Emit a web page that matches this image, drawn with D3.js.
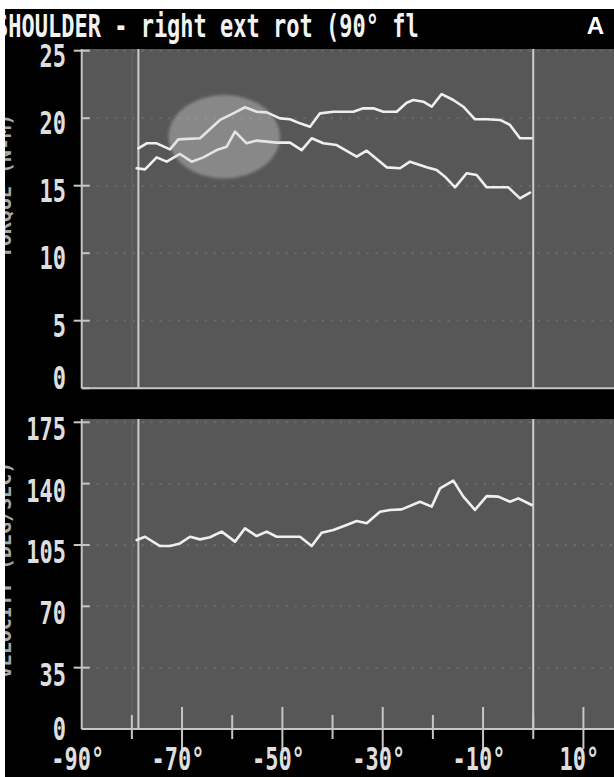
<!DOCTYPE html>
<html>
<head>
<meta charset="utf-8">
<script src="https://cdn.jsdelivr.net/npm/d3@7"></script>
<style>
  html, body { margin: 0; padding: 0; background: #000; }
  svg { display: block; }
</style>
</head>
<body>
<script>
// ---- chart text ----
const title = "SHOULDER - right ext rot (90\u00B0 fl";
const panelTag = "A";
const axisTitles = ["TORQUE (N-M)", "VELOCITY (DEG/SEC)"];

// ---- axes ----
const xTickValues = [-90, -70, -50, -30, -10, 10];
const xMinorTicks = [-80, -60, -40, -20, 0];
const torqueTicks = [0, 5, 10, 15, 20, 25];
const lowerTicks = [0, 35, 70, 105, 140, 175];

// range-of-motion limits (deg) and highlighted zone (deg / torque)
const romLimits = [-78.7, 0];
const highlightX = [-72.7, -50.5];
const highlightY = [15.54, 21.72];

// ---- upper torque trace ----
const upperPos = [-78.7, -77.05, -75.06, -72.4, -70.74, -66.42, -62.43, -59.78, -57.45, -55.12,
  -53.13, -50.47, -48.48, -46.49, -44.5, -42.5, -39.84, -35.86, -33.87, -31.87,
  -29.88, -27.22, -25.23, -23.9, -21.91, -20.24, -18.25, -15.93, -13.93, -11.61,
  -9.28, -6.62, -4.63, -2.64, -0.31];
const upperVal = [17.77, 18.14, 18.14, 17.69, 18.43, 18.51, 19.87, 20.36, 20.81, 20.48,
  20.43, 19.99, 19.92, 19.62, 19.37, 20.36, 20.48, 20.48, 20.73, 20.73,
  20.48, 20.48, 21.15, 21.35, 21.22, 20.85, 21.79, 21.35, 20.85, 19.92,
  19.92, 19.87, 19.5, 18.51, 18.51];

// ---- lower torque trace ----
const lowerPos = [-79.04, -77.38, -75.06, -73.06, -70.41, -68.08, -65.76, -63.1, -61.1, -59.44,
  -57.12, -55.12, -51.14, -48.48, -46.16, -44.16, -41.84, -39.18, -35.19, -33.2,
  -29.21, -26.56, -24.56, -21.24, -19.25, -17.59, -15.59, -13.27, -11.27, -9.28,
  -4.96, -2.64, -0.64];
const lowerVal = [16.29, 16.21, 17.1, 16.78, 17.35, 16.78, 17.1, 17.64, 17.89, 19.0,
  18.14, 18.34, 18.19, 18.19, 17.64, 18.51, 18.14, 18.01, 17.15, 17.59,
  16.36, 16.29, 16.78, 16.36, 16.16, 15.67, 14.88, 15.92, 15.79, 14.88,
  14.88, 14.06, 14.48];

// ---- velocity trace (second panel) ----
const velPos = [-79.04, -77.38, -74.39, -72.4, -70.41, -68.41, -66.42, -64.43, -62.1, -59.44,
  -57.45, -55.12, -53.13, -51.14, -46.49, -44.16, -42.17, -39.84, -37.19, -35.19,
  -33.2, -30.54, -28.55, -26.22, -22.57, -20.24, -18.58, -15.93, -13.93, -11.61,
  -9.28, -6.96, -4.63, -2.97, -0.31];
const velVal = [107.8, 109.7, 104.4, 104.4, 105.9, 109.7, 108.2, 109.4, 112.6, 106.9,
  114.5, 110.1, 112.6, 109.7, 109.7, 104.4, 112.0, 113.5, 116.4, 118.7,
  117.4, 124.0, 125.0, 125.3, 129.7, 126.9, 137.3, 141.7, 132.6, 125.0,
  132.9, 132.6, 129.7, 131.6, 127.8];

// ---- drawing ----
const W = 614, H = 777;
const svg = d3.select("body").append("svg").attr("width", W).attr("height", H);

const defs = svg.append("defs");
defs.append("filter").attr("id", "soft").attr("x", "-5%").attr("y", "-5%").attr("width", "110%").attr("height", "110%")
  .append("feGaussianBlur").attr("stdDeviation", 0.55);
defs.append("filter").attr("id", "haze").attr("x", "-20%").attr("y", "-20%").attr("width", "140%").attr("height", "140%")
  .append("feGaussianBlur").attr("stdDeviation", 1.6);

svg.append("rect").attr("width", W).attr("height", H).attr("fill", "#000");

const x = d3.scaleLinear().domain([-90, 10]).range([81.7, 583.4]);
const yTop = d3.scaleLinear().domain([0, 25]).range([388.2, 50.7]);
const yBot = d3.scaleLinear().domain([0, 175]).range([729, 422.3]);

const GRAY = "#575757", AXIS = "#c6c6c6", TRACE = "#efefef", LABEL = "#dedede";
const MONO = "'DejaVu Sans Mono', 'Liberation Mono', monospace";

function monoText(sel, px, py, str, anchor) {
  return sel.append("text")
    .attr("transform", `translate(${px},${py}) scale(1,1.45)`)
    .attr("text-anchor", anchor)
    .attr("font-family", MONO)
    .attr("font-weight", "bold")
    .attr("font-size", 22)
    .attr("fill", LABEL)
    .text(str);
}

const panels = [
  { y: yTop, ticks: torqueTicks, top: 49, labelDy: 16, zeroDy: 1,
    series: [[upperPos, upperVal], [lowerPos, lowerVal]], title: axisTitles[0], titleY: 186 },
  { y: yBot, ticks: lowerTicks, top: 419, labelDy: 18, zeroDy: 11,
    series: [[velPos, velVal]], title: axisTitles[1], titleY: 570 }
];

panels.forEach(p => {
  const g = svg.append("g");
  const y0 = p.y(0);
  const x0 = x(-90);

  // plotting field
  g.append("rect").attr("x", x0).attr("y", p.top).attr("width", W - x0).attr("height", y0 - p.top).attr("fill", GRAY);

  // dotted reference rows
  g.selectAll("line.grid").data(p.ticks.filter(v => v !== 0)).join("line")
    .attr("x1", x0 + 6).attr("x2", W).attr("y1", d => p.y(d)).attr("y2", d => p.y(d))
    .attr("stroke", "#6d6d6d").attr("stroke-width", 2).attr("stroke-dasharray", "2,7");

  // faint guide column
  g.append("line").attr("x1", x(-80)).attr("x2", x(-80)).attr("y1", p.top).attr("y2", y0)
    .attr("stroke", "#626262").attr("stroke-width", 1.5);

  // range-of-motion markers
  g.selectAll("line.rom").data(romLimits).join("line")
    .attr("x1", d => x(d)).attr("x2", d => x(d)).attr("y1", p.top).attr("y2", y0)
    .attr("stroke", "#cdcdcd").attr("stroke-width", 2);

  // axis lines
  g.append("line").attr("x1", x0).attr("x2", x0).attr("y1", p.top).attr("y2", y0)
    .attr("stroke", AXIS).attr("stroke-width", 2);
  g.append("line").attr("x1", x0).attr("x2", W).attr("y1", y0).attr("y2", y0)
    .attr("stroke", AXIS).attr("stroke-width", 2);

  // y ticks: alternate ones cross the axis
  const n = p.ticks.length;
  g.selectAll("line.yt").data(p.ticks).join("line")
    .attr("x1", (d, i) => ((n - 1 - i) % 2 === 0 ? x0 - 8 : x0))
    .attr("x2", x0 + 8)
    .attr("y1", d => p.y(d)).attr("y2", d => p.y(d))
    .attr("stroke", AXIS).attr("stroke-width", 2);

  // y tick labels
  p.ticks.forEach(v => {
    monoText(g, 66, p.y(v) + (v === 0 ? p.zeroDy : p.labelDy), String(v), "end");
  });

  // traces
  const line = d3.line().x(d => x(d[0])).y(d => p.y(d[1]));
  p.series.forEach(([pos, val]) => {
    g.append("path").datum(pos.map((d, i) => [d, val[i]]))
      .attr("d", line).attr("fill", "none")
      .attr("stroke", TRACE).attr("stroke-width", 2.6)
      .attr("stroke-linejoin", "round").attr("stroke-linecap", "round")
      .attr("filter", "url(#soft)");
  });

  // axis title, mostly running off the left edge
  svg.append("text")
    .attr("transform", `translate(11,${p.titleY}) rotate(-90)`)
    .attr("text-anchor", "middle")
    .attr("font-family", MONO).attr("font-weight", "bold").attr("font-size", 20)
    .attr("fill", "#a9a9a9")
    .text(p.title);
});

// highlighted zone on the torque panel
svg.append("ellipse")
  .attr("cx", x((highlightX[0] + highlightX[1]) / 2))
  .attr("cy", yTop((highlightY[0] + highlightY[1]) / 2))
  .attr("rx", (x(highlightX[1]) - x(highlightX[0])) / 2)
  .attr("ry", (yTop(highlightY[0]) - yTop(highlightY[1])) / 2)
  .attr("fill", "#d2d2d2").attr("fill-opacity", 0.4)
  .attr("filter", "url(#haze)");

// x axis ticks and labels under the second panel
const yb0 = yBot(0);
svg.append("g").selectAll("line").data(xTickValues.filter(d => d !== -90)).join("line")
  .attr("x1", d => x(d)).attr("x2", d => x(d)).attr("y1", yb0 - 22).attr("y2", yb0 + 20)
  .attr("stroke", AXIS).attr("stroke-width", 2);
svg.append("g").selectAll("line").data(xMinorTicks).join("line")
  .attr("x1", d => x(d)).attr("x2", d => x(d)).attr("y1", yb0 - 14).attr("y2", yb0 + 10)
  .attr("stroke", AXIS).attr("stroke-width", 2);
xTickValues.forEach(v => {
  monoText(svg, x(v) - 4, 770, `${v}\u00B0`, "middle");
});

// title bar text
monoText(svg, -5, 37, title, "start").attr("fill", "#f2f2f2");
svg.append("text")
  .attr("x", 604).attr("y", 34).attr("text-anchor", "end")
  .attr("font-family", "'Liberation Sans', Arial, sans-serif").attr("font-weight", "bold")
  .attr("font-size", 24).attr("fill", "#ffffff")
  .text(panelTag);

// white margin along the top and left edge
svg.append("rect").attr("x", 0).attr("y", 0).attr("width", W).attr("height", 9).attr("fill", "#fff");
svg.append("rect").attr("x", 0).attr("y", 0).attr("width", 5).attr("height", H).attr("fill", "#fff");
</script>
</body>
</html>
